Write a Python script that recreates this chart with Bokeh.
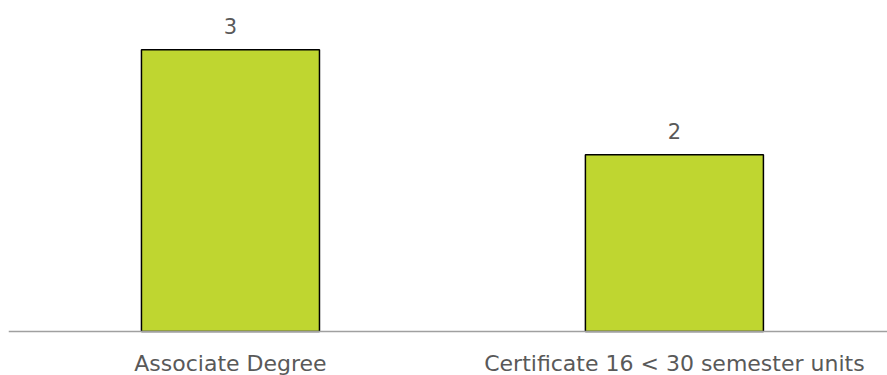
from bokeh.plotting import figure
from bokeh.models import Range1d, ColumnDataSource, Span
from bokeh.core.properties import value
from bokeh.embed import file_html
from bokeh.resources import INLINE

categories = ["Associate Degree", "Certificate 16 < 30 semester units"]
counts = [3, 2]
positions = [0, 1]
labels = [str(c) for c in counts]

FONT = "DejaVu Sans"
GRAY = "#595959"
BASE = 0.314  # value axis minimum (where the category axis crosses)

src = ColumnDataSource(dict(x=positions, top=counts, lab=labels,
                            cat=categories, base=[BASE] * len(counts)))

p = figure(width=887, height=375, output_backend="svg", toolbar_location=None,
           x_range=Range1d(-0.5, 1.48), y_range=Range1d(-0.105, 3.47),
           min_border_left=8, min_border_right=0, min_border_top=0, min_border_bottom=0)
p.vbar(x="x", top="top", bottom="base", width=0.401, source=src,
       fill_color="#BFD630", line_color="#000000", line_width=1.5)
p.add_layout(Span(location=BASE, dimension="width", line_color="#A0A0A0", line_width=1.5))
p.text(x="x", y="top", text="lab", source=src, y_offset=-24,
       text_align="center", text_baseline="middle", text_color=GRAY,
       text_font=value(FONT), text_font_size="21px")
p.text(x="x", y="base", text="cat", source=src, y_offset=32,
       text_align="center", text_baseline="middle", text_color=GRAY,
       text_font=value(FONT), text_font_size="22px")

p.xaxis.visible = False
p.yaxis.visible = False
p.xgrid.visible = False
p.ygrid.visible = False
p.outline_line_color = None
p.background_fill_color = "white"
p.border_fill_color = "white"

open("out.html", "w").write(file_html(p, INLINE))
